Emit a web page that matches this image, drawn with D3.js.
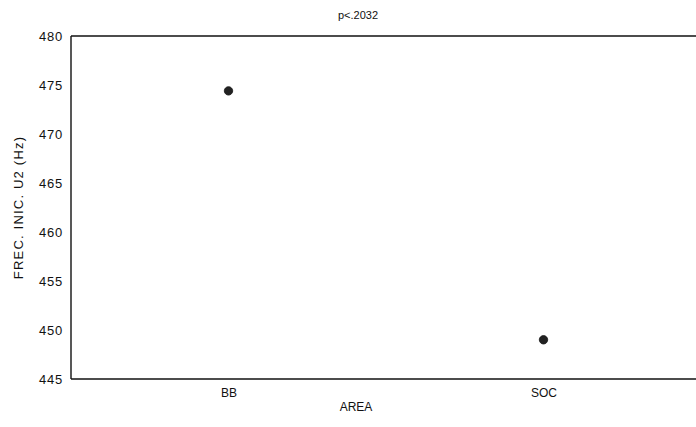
<!DOCTYPE html>
<html><head><meta charset="utf-8">
<script src="https://cdn.jsdelivr.net/npm/d3@7"></script>
<style>body{margin:0;background:#fff}text{font-family:"Liberation Sans",Arial,sans-serif;fill:#111}</style>
</head><body><svg id="c" width="696" height="427"></svg>
<script>
const categories = ["BB", "SOC"];
const means = [474.4, 449.0];
const yTicks = [445, 450, 455, 460, 465, 470, 475, 480];
const title = "p<.2032";
const xLabel = "AREA";
const yLabel = "FREC. INIC. U2 (Hz)";

const svg = d3.select("#c");
const L = 71, T = 36, B = 379, R = 701;
const x = d3.scalePoint().domain(categories).range([L, R]).padding(0.5);
const y = d3.scaleLinear().domain([445, 480]).range([B, T]);

// frame
svg.append("line").attr("x1", L).attr("x2", 696).attr("y1", T).attr("y2", T).attr("stroke", "#111").attr("stroke-width", 1.4);
svg.append("line").attr("x1", L).attr("x2", 696).attr("y1", B).attr("y2", B).attr("stroke", "#111").attr("stroke-width", 1.4);
svg.append("line").attr("x1", L).attr("x2", L).attr("y1", T).attr("y2", B).attr("stroke", "#111").attr("stroke-width", 1.4);

const ya = d3.axisLeft(y).tickValues(yTicks).tickSize(0).tickPadding(8);
const gy = svg.append("g").attr("transform", `translate(${L},0)`).call(ya);
gy.select(".domain").remove();
gy.selectAll("text").style("font-size", "13px").style("letter-spacing", "0.8px").style("font-family", '"Liberation Sans",Arial,sans-serif');

const xa = d3.axisBottom(x).tickSize(0).tickPadding(9);
const gx = svg.append("g").attr("transform", `translate(0,${B})`).call(xa);
gx.select(".domain").remove();
gx.selectAll("text").style("font-size", "12px").style("font-family", '"Liberation Sans",Arial,sans-serif');

svg.selectAll("circle.pt").data(categories).join("circle")
  .attr("class", "pt").attr("cx", d => x(d)).attr("cy", (d, i) => y(means[i]))
  .attr("r", 4.2).attr("fill", "#222").attr("stroke", "#111").attr("stroke-width", 0.8);

svg.append("text").attr("x", 358).attr("y", 19).attr("text-anchor", "middle").style("font-size", "11px").text(title);
svg.append("text").attr("x", 356).attr("y", 411).attr("text-anchor", "middle").style("font-size", "12px").text(xLabel);
svg.append("text").attr("transform", `translate(23,${(T + B) / 2}) rotate(-90)`).attr("text-anchor", "middle")
  .style("font-size", "13px").style("letter-spacing", "1.2px").text(yLabel);
</script></body></html>
